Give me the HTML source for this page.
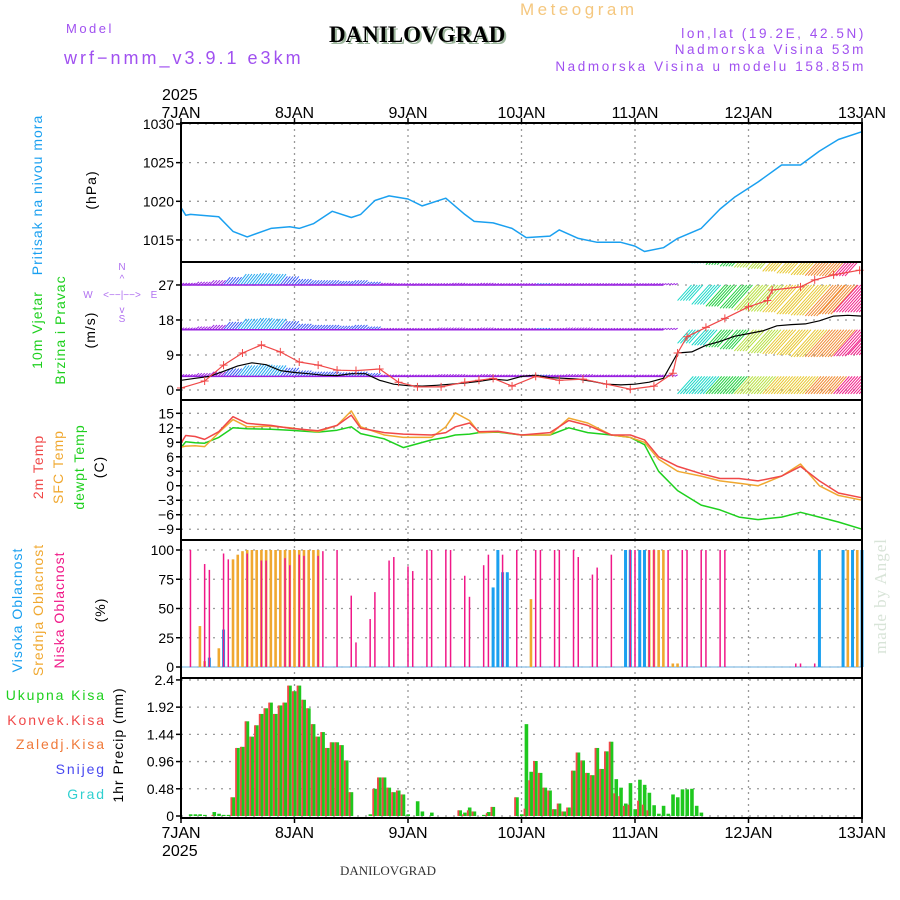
<!DOCTYPE html>
<html><head><meta charset="utf-8"><style>
body{margin:0;background:#fff;}
svg{display:block;font-family:"Liberation Sans",sans-serif;}
</style></head><body>
<svg id="chart" width="900" height="900" viewBox="0 0 900 900">
<defs>
<clipPath id="windclip"><rect x="181" y="262" width="681" height="138"/></clipPath>
</defs>
<g>
<text x="66" y="33" font-size="13" letter-spacing="2.5" fill="#a050f0">Model</text>
<text x="64" y="64" font-size="18" letter-spacing="3" fill="#a050f0">wrf−nmm_v3.9.1 e3km</text>
<text x="520" y="15" font-size="17" letter-spacing="3.5" fill="#f5c77e">Meteogram</text>
<text x="331" y="44" font-size="23" font-weight="bold" font-family="Liberation Serif,serif" fill="#9bb59b">DANILOVGRAD</text>
<text x="329" y="42" font-size="23" font-weight="bold" font-family="Liberation Serif,serif" fill="#000">DANILOVGRAD</text>
<text x="866" y="38" font-size="13.5" letter-spacing="2.6" fill="#a050f0" text-anchor="end">lon,lat (19.2E, 42.5N)</text>
<text x="866" y="54" font-size="13.5" letter-spacing="2.6" fill="#a050f0" text-anchor="end">Nadmorska Visina 53m</text>
<text x="866" y="71" font-size="13.5" letter-spacing="2.6" fill="#a050f0" text-anchor="end">Nadmorska Visina u modelu 158.85m</text>
<text x="162" y="100" font-size="16" fill="#000">2025</text>
<text x="162" y="856" font-size="16" fill="#000">2025</text>
<text x="388" y="875" font-size="13" font-family="Liberation Serif,serif" fill="#333" text-anchor="middle">DANILOVGRAD</text>
</g>
<g font-size="14" letter-spacing="1">
<text transform="translate(42,195) rotate(-90)" text-anchor="middle" fill="#1aa0f0">Pritisak na nivou mora</text>
<text transform="translate(96,190) rotate(-90)" text-anchor="middle" fill="#000">(hPa)</text>
<text transform="translate(42,330) rotate(-90)" text-anchor="middle" fill="#1ed01e">10m Vjetar</text>
<text transform="translate(65,330) rotate(-90)" text-anchor="middle" fill="#1ed01e">Brzina i Pravac</text>
<text transform="translate(95,330) rotate(-90)" text-anchor="middle" fill="#000">(m/s)</text>
<g fill="#b070f0" font-size="10" letter-spacing="0">
<text x="122" y="270" text-anchor="middle">N</text>
<text x="122" y="322" text-anchor="middle">S</text>
<text x="88" y="298" text-anchor="middle">W</text>
<text x="154" y="298" text-anchor="middle">E</text>
<text x="122" y="298" text-anchor="middle">&lt;−−|−−&gt;</text>
<text x="122" y="282" text-anchor="middle">^</text>
<text x="122" y="313" text-anchor="middle">v</text>
</g>
<text transform="translate(43,467) rotate(-90)" text-anchor="middle" fill="#f04848">2m Temp</text>
<text transform="translate(63,467) rotate(-90)" text-anchor="middle" fill="#f0a830">SFC Temp</text>
<text transform="translate(84,467) rotate(-90)" text-anchor="middle" fill="#1ed01e">dewpt Temp</text>
<text transform="translate(104,467) rotate(-90)" text-anchor="middle" fill="#000">(C)</text>
<text transform="translate(22,610) rotate(-90)" text-anchor="middle" fill="#1aa0f0">Visoka Oblacnost</text>
<text transform="translate(43,610) rotate(-90)" text-anchor="middle" fill="#f0a830">Srednja Oblacnost</text>
<text transform="translate(64,610) rotate(-90)" text-anchor="middle" fill="#f01888">Niska Oblacnost</text>
<text transform="translate(105,610) rotate(-90)" text-anchor="middle" fill="#000">(%)</text>
<text transform="translate(123,745) rotate(-90)" text-anchor="middle" fill="#000">1hr Precip (mm)</text>
<g letter-spacing="1.9">
<text x="106" y="700" text-anchor="end" fill="#1ed01e">Ukupna  Kisa</text>
<text x="106" y="725" text-anchor="end" fill="#f04848">Konvek.Kisa</text>
<text x="106" y="749" text-anchor="end" fill="#f07a3a">Zaledj.Kisa</text>
<text x="106" y="774" text-anchor="end" fill="#4848f0">Snijeg</text>
<text x="106" y="799" text-anchor="end" fill="#30d0d0">Grad</text>
</g>
<text transform="translate(886,596) rotate(-90)" text-anchor="middle" fill="#d8e4d8" font-size="17" font-family="Liberation Serif,serif">made by Angel</text>
</g>
<g id="plot"></g>
</svg>
<script>
// ---- data ----
const dayLabels = ["7JAN","8JAN","9JAN","10JAN","11JAN","12JAN","13JAN"];
const pTicks = [1015,1020,1025,1030];
const windTicks = [0,9,18,27];
const tempTicks = [-9,-6,-3,0,3,6,9,12,15];
const cloudTicks = [0,25,50,75,100];
const precipTicks = ["0","0.48","0.96","1.44","1.92","2.4"];

const pHours = [0,1,2,8,11,14,19,23,25,28,32,36,38,41,44,48,51,56,60,62,66,70,73,78,80,84,88,93,96,98,102,105,110,114,117,122,127,131,135,139,144];
const pVals = [1019.2,1018.2,1018.3,1018.0,1016.1,1015.4,1016.5,1016.7,1016.5,1017.1,1018.7,1017.9,1018.3,1020.1,1020.7,1020.3,1019.4,1020.4,1018.3,1017.4,1017.2,1016.5,1015.3,1015.5,1016.3,1015.2,1014.7,1014.7,1014.2,1013.5,1014,1015.2,1016.5,1019,1020.5,1022.5,1024.7,1024.7,1026.5,1028,1029];

const windHours3 = [0,3,6,9,12,15,18,21,24,27,30,33,36,39,42,45,48,51,54,57,60,63,66,69,72,75,78,81,84,87,90,93,96,99,102,105,108,111,114,117,120,123,126,129,132,135,138,141,144];
const windSpeed = [2.5,3,3.5,4.8,6.2,7,6.5,5,4.5,4.2,3.8,3.7,4.2,4.2,2.5,1.5,1.1,1,1.2,1.5,1.8,2.2,2.8,2.5,3.5,3.8,3.2,3,2.8,2.2,1.5,1.3,1.5,2,3,9.5,9.8,11.5,12.5,13.8,14.5,15.2,16.5,16.8,17,17.8,19,19.2,19];
const devRowA = [0.5,0.8,1.2,2,2.8,3,2.8,2.2,1.5,1.2,1.2,1,1.2,0.8,0.5,0.4,0.4,0.4,0.4,0.5,0.4,0.5,0.4,0.4,0.4,0.4,0.4,0.4,0.4,0.4,0.4,0.4,0.4,0.4,0.4,-4,-5,-5.5,-6,-6.5,-6.8,-7,-7.5,-7.8,-8,-7.5,-7,-7,-7];
const devRowB = [0.5,0.8,1.2,2,2.8,3,2.8,2.2,1.5,1.2,1.2,1,1.2,0.8,0.4,0.4,0.4,0.4,0.5,0.5,0.4,0.5,0.4,0.4,0.4,0.4,0.4,0.5,0.5,0.4,0.4,0.4,0.4,0.4,0.4,-3.5,-4,-4.5,-5,-5.5,-6,-6.2,-6.5,-7,-7,-7,-6.8,-6.5,-6.5];
const devRowC = [0.5,0.8,1.2,2,2.8,3,2.8,2.2,1.5,1.2,1.2,1,1.2,0.8,0.4,0.4,0.4,0.4,0.5,0.5,0.4,0.5,0.4,0.4,0.4,0.4,0.4,0.5,0.5,0.4,0.4,0.4,0.4,0.4,0.4,-4.5,-4.5,-4.5,-4.5,-4.5,-4.5,-4.5,-4.5,-4.5,-4.5,-4.5,-4.5,-4.5,-4.5];
const devRowD = [0,0,0,0,0,0,0,0,0,0,0,0,0,0,0,0,0,0,0,0,0,0,0,0,0,0,0,0,0,0,0,0,0,0,0,0,-3.4,-3.8,-4.2,-4.5,-4.8,-5.5,-6,-6.4,-6.6,-6.7,-6.7,0,0];
const gustHours = [0,5,9,13,17,21,25,29,33,37,42,46,50,55,60,63,66,70,75,80,85,90,95,100,104,105,107,111,115,120,124,125,131,134,138,143.5];
const gustVals = [0.5,2.3,6.4,9.5,11.6,9.8,7.2,6.4,5.1,5,5.4,2,0.8,0.8,2,2.5,3,1,3.5,2.5,2.8,1.5,0.2,1,4.3,9.5,13.7,16.1,18.4,21.4,23,25.7,26.5,28.3,29.6,30.8];

const tHours = [0,1,3,5,8,11,14,19,23,29,33,36,38,43,47,53,56,58,61,63,67,72,78,82,86,91,95,98,101,105,110,114,118,122,127,131,135,139,144];
const t2m = [8.8,10.4,10.2,9.6,11.2,14.3,12.9,12.5,11.9,11.4,12.5,14.6,11.9,11,10.7,10.5,11,12.2,13,11.2,11.3,10.5,11,13.5,12.5,10.5,10.5,9.5,6,4,2.5,1.5,1.5,1,2,4,1,-1.5,-2.5];
const tSfc = [8,8.2,8.3,8.1,11,13.7,12.2,12.3,12,11.2,12.5,15.5,12.2,10.5,10,10,12.2,15.1,13.5,11,11.2,10.5,10.5,14,13,10.5,10,9,5.5,3,2,1,0.5,0,2,4.5,0,-2,-3];
const tDew = [7.9,9.1,8.9,8.8,10,12,11.8,11.7,11.5,11.1,11.5,12.2,10.8,9.7,7.9,9.5,10,10.5,10.7,11,11.1,10.5,10.5,12,11,10.5,10,8.5,3,-1,-4,-5,-6.5,-7,-6.5,-5.5,-6.5,-7.5,-9];

const lowHours = [2,5,6,9,10,14,17,18,22,23,25,26,29,30,33,36,37,40,41,44,45,48,49,52,53,56,57,60,61,64,65,68,71,75,76,79,80,83,84,87,88,91,95,96,99,100,103,106,107,110,111,114,115,130,131,134];
const lowVals = [100,88,83,97,92,97,91,91,93,87,96,95,95,99,100,61,21,41,64,91,94,86,82,100,100,100,100,78,60,87,96,96,100,100,100,100,100,100,94,79,85,96,100,100,100,100,100,100,100,100,100,100,100,3,3,3];
const midHours = [4,5,8,11,12,13,14,15,16,17,18,19,20,21,22,23,24,25,26,27,28,29,66,67,74,97,98,99,100,101,102,104,105,140,141,143];
const midVals = [35,5,16,92,96,99,100,100,100,100,100,100,100,100,100,100,100,100,100,100,100,100,60,92,58,100,100,100,100,100,100,3,3,100,100,100];
const highHours = [6,9,66,67,68,69,94,95,97,98,135,140,142,144];
const highVals = [8,32,68,100,81,81,100,100,100,100,100,100,100,100];

const precipHours = [2,3,4,5,7,8,9,10,11,12,13,14,15,16,17,18,19,20,21,22,23,24,25,26,27,28,29,30,31,32,33,34,35,36,40,41,42,43,44,45,46,47,48,50,51,53,59,60,61,62,64,65,66,71,72,73,74,75,76,77,78,79,80,81,82,83,84,85,86,87,88,89,90,91,92,93,94,95,96,97,98,99,100,101,102,103,104,105,106,107,108,109,110];
const precipTotal = [0.03,0.03,0.03,0.02,0.07,0.04,0.02,0.02,0.33,1.2,1.22,1.67,1.4,1.6,1.8,1.9,2.0,1.8,1.95,2.0,2.3,2.2,2.3,2.05,1.9,1.62,1.4,1.48,1.2,1.3,1.3,1.25,0.98,0.42,0.03,0.48,0.68,0.68,0.5,0.42,0.45,0.38,0.03,0.26,0.08,0.06,0.1,0.06,0.15,0.08,0.02,0.07,0.16,0.33,0.03,1.62,0.78,0.97,0.76,0.5,0.45,0.12,0.22,0.08,0.15,0.8,1.12,0.98,0.76,0.72,1.2,0.83,1.14,1.31,0.65,0.5,0.22,0.58,0.12,0.64,0.55,0.41,0.19,0.04,0.18,0.04,0.38,0.33,0.47,0.47,0.48,0.18,0.06];
const precipConv = [0,0,0,0,0.02,0,0,0,0.33,1.2,1.22,1.67,1.4,1.6,1.8,1.9,2.0,1.8,1.95,2.0,2.3,2.2,2.3,2.05,1.9,1.62,1.4,1.48,1.2,1.3,1.3,1.25,0.98,0.42,0,0.48,0.68,0.68,0.5,0.42,0.45,0.38,0,0,0,0,0.1,0.03,0.1,0.08,0,0.05,0.16,0.33,0,0.13,0.63,0.97,0.76,0.5,0.45,0.12,0.22,0.08,0.15,0.8,1.12,0.98,0.76,0.72,1.2,0.83,1.14,1.31,0.4,0.35,0.18,0.2,0,0.27,0.2,0.1,0,0,0,0,0,0,0,0,0,0,0];

// ---- layout ----
const X0=181, X1=862, NS="http://www.w3.org/2000/svg";
const xH = h => X0 + (X1-X0)*h/144;
const panels = {
  p:{top:123,bot:262, y:v=>124+(1030-v)*7.73},
  w:{top:262,bot:400, y:v=>390-v*3.89},
  t:{top:400,bot:540, y:v=>413.3+(15-v)*4.83},
  c:{top:540,bot:678, y:v=>667-v*1.17},
  r:{top:678,bot:818, y:v=>816-v*56.7}
};
const plot=document.getElementById('plot');
function el(tag,attrs,parent){const e=document.createElementNS(NS,tag);for(const k in attrs)e.setAttribute(k,attrs[k]);(parent||plot).appendChild(e);return e;}

function grid(pn,ticks,labels,name){
  const g=el('g',{});
  
  
  ticks.forEach((v,i)=>{
    const y=pn.y(v);
    el('line',{x1:X0,x2:X1,y1:y,y2:y,stroke:'#999','stroke-dasharray':'2,6','stroke-width':1.3},g);
    el('line',{x1:X0-5,x2:X0,y1:y,y2:y,stroke:'#000','stroke-width':1.5},g);
    const t=el('text',{x:X0-7,y:y+5,'font-size':14,'text-anchor':'end',fill:'#000'},g);
    t.textContent=labels?labels[i]:v;
    
    
  });
  for(let d=1;d<6;d++){const x=xH(d*24);el('line',{x1:x,x2:x,y1:pn.top,y2:pn.bot,stroke:'#999','stroke-dasharray':'2,4','stroke-width':1.3},g);}
}
grid(panels.p,pTicks,null,'pressure');
grid(panels.w,windTicks,null,'wind');
grid(panels.t,tempTicks,tempTicks.map(v=>v<0?'−'+(-v):''+v),'temp');
grid(panels.c,cloudTicks,null,'cloud');
grid(panels.r,precipTicks.map(Number),precipTicks,'precip');

dayLabels.forEach((d,i)=>{
  const x=xH(i*24);
  const t1=el('text',{x:x,y:118,'font-size':16,'text-anchor':'middle'});t1.textContent=d;
  
  
  const t2=el('text',{x:x,y:838,'font-size':16,'text-anchor':'middle'});t2.textContent=d;
  
  
  el('line',{x1:x,x2:x,y1:118,y2:123,stroke:'#000','stroke-width':1.5});
  el('line',{x1:x,x2:x,y1:818,y2:823,stroke:'#000','stroke-width':1.5});
});

function line(hours,vals,pn,color,name,w){
  const pts=hours.map((h,i)=>xH(h).toFixed(1)+','+pn.y(vals[i]).toFixed(1)).join(' ');
  const p=el('polyline',{points:pts,fill:'none',stroke:color,'stroke-width':w||1.5,'stroke-linejoin':'round'});
  
  
  return p;
}
line(pHours,pVals,panels.p,'#1aa0f0','pressure-line');

function wcol(s){if(s<3.6)return '#9a22e0';if(s<5.5)return '#3a5cf5';if(s<9)return '#22a8f0';if(s<11)return '#18d8c8';if(s<13)return '#22d040';if(s<15)return '#b8e040';if(s<17)return '#e8c830';if(s<18.5)return '#f08a30';return '#f0208a';}
const wg=el('g',{'clip-path':'url(#windclip)'});


[[27,devRowA],[15.5,devRowB],[3.5,devRowC],[36,devRowD]].forEach(([lvl,dev])=>{
  const pn=panels.w;
  windHours3.forEach((h,i)=>{
    const d=dev[i]; if(d===0)return;
    const c=wcol(windSpeed[i]);
    const yL=pn.y(lvl), yT=pn.y(lvl+d);
    for(let k=0;k<5;k++){
      const x=xH(h)+k*2.84;
      if(x>X1+2)continue;
      const dy=Math.abs(yT-yL);
      if(d>0) el('line',{x1:x,y1:yL,x2:x+dy*0.6+2,y2:yT,stroke:c,'stroke-width':1},wg);
      else el('line',{x1:x,y1:yT,x2:x+dy*0.9,y2:yL,stroke:c,'stroke-width':1},wg);
    }
  });
  if(lvl<30){
    const pts=windHours3.filter(h=>h<=104).map(h=>xH(h)+','+pn.y(lvl)).join(' ');
    el('polyline',{points:pts,fill:'none',stroke:'#9a22e0','stroke-width':1.5},wg);
  }
});
line(windHours3,windSpeed,panels.w,'#000','wind-speed-line',1.2).setAttribute('clip-path','url(#windclip)');
line(gustHours,gustVals,panels.w,'#f04848','wind-gust-line',1.2);
gustHours.forEach((h,i)=>{
  const x=xH(h),y=panels.w.y(gustVals[i]);
  const m=el('path',{d:`M${x-4},${y}h8M${x},${y-4}v8`,stroke:'#f04848','stroke-width':1});
  
  
});

line(tHours,tDew,panels.t,'#1ed01e','dewpoint-line');
line(tHours,tSfc,panels.t,'#f0a830','sfc-temp-line');
line(tHours,t2m,panels.t,'#f04848','temp-2m-line');

const cp=panels.c;
el('line',{x1:X0,x2:X1,y1:cp.y(0),y2:cp.y(0),stroke:'#9cc8e8','stroke-width':1.5});
function cbars(hours,vals,color,w,name){
  hours.forEach((h,i)=>{
    const r=el('rect',{x:xH(h)-w/2,y:cp.y(vals[i]),width:w,height:cp.y(0)-cp.y(vals[i]),fill:color});
    
    
  });
}
cbars(midHours,midVals,'#f0a830',2.6,'mid-cloud-bar');
cbars(highHours,highVals,'#1aa0f0',3,'high-cloud-bar');
cbars(lowHours,lowVals,'#f01888',1.5,'low-cloud-bar');

const rp=panels.r;
precipHours.forEach((h,i)=>{
  const x=xH(h);
  const g=el('rect',{x:x-1.6,y:rp.y(precipTotal[i]),width:3.6,height:rp.y(0)-rp.y(precipTotal[i]),fill:'#1ec81e'});
  
  
  if(precipConv[i]>0){
    const r=el('rect',{x:x-2.6,y:rp.y(precipConv[i]),width:1.8,height:rp.y(0)-rp.y(precipConv[i]),fill:'#f04848'});
    
    
  }
});

['p','w','t','c','r'].forEach(k=>{
  const pn=panels[k];
  const f=el('rect',{x:X0,y:pn.top,width:X1-X0,height:pn.bot-pn.top,fill:'none',stroke:'#000','stroke-width':2});
  
  
});
</script>
</body></html>
